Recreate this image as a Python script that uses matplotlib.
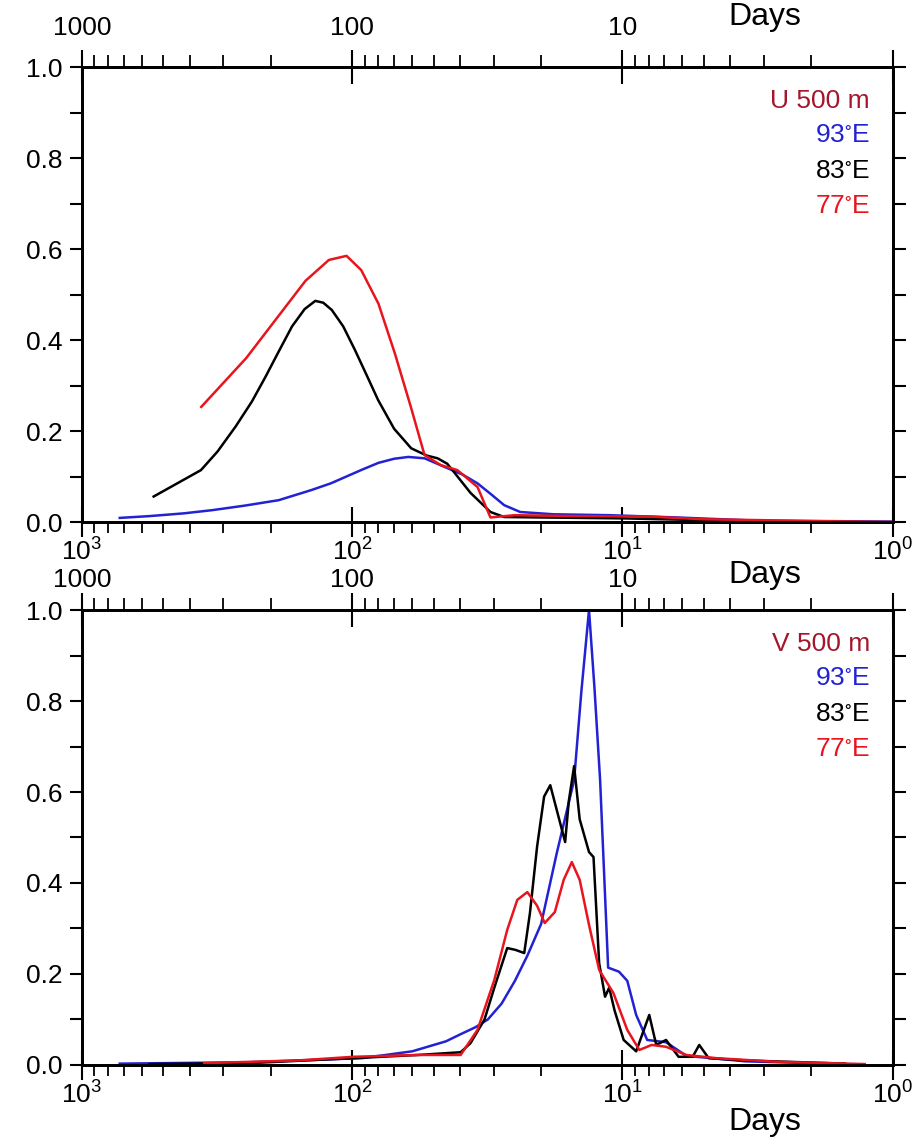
import numpy as np
import matplotlib
matplotlib.use('Agg')
import matplotlib.pyplot as plt
from matplotlib.ticker import FixedLocator, FixedFormatter, NullFormatter, MultipleLocator, LogLocator, LogFormatterSciNotation

plt.rcParams['font.family'] = ['Liberation Sans', 'DejaVu Sans']
plt.rcParams['mathtext.fontset'] = 'custom'
plt.rcParams['mathtext.rm'] = 'Liberation Sans'
plt.rcParams['mathtext.default'] = 'regular'

# ---- U 500 m (top panel): period in days vs normalised spectrum
u93_days = [725, 562, 420, 330, 250, 187, 142, 120, 106, 92, 80, 70, 62, 54, 45.5, 39, 34.4, 30.5, 27.4, 23.9, 18, 11.2, 6.3, 3.2, 1.0]
u93_vals = [0.009, 0.013, 0.019, 0.026, 0.036, 0.048, 0.07, 0.085, 0.099, 0.115, 0.13, 0.139, 0.143, 0.14, 0.121, 0.104, 0.085, 0.06, 0.037, 0.022, 0.017, 0.015, 0.01, 0.003, 0.001]

u83_days = [543, 363, 315, 270, 235, 209, 187, 167, 150, 137, 128, 119, 108, 97.7, 88, 80.2, 70, 60.5, 53, 48.3, 44.5, 41.8, 36.5, 30.8, 27.4, 20, 10, 5, 3]
u83_vals = [0.056, 0.114, 0.155, 0.21, 0.265, 0.32, 0.375, 0.43, 0.468, 0.486, 0.482, 0.466, 0.43, 0.378, 0.32, 0.268, 0.205, 0.162, 0.146, 0.14, 0.128, 0.108, 0.064, 0.022, 0.011, 0.01, 0.008, 0.004, 0.0]

u77_days = [362, 247, 149, 122, 105, 92.7, 80, 69.5, 60.7, 54, 47, 40.8, 34.4, 30.8, 25, 15, 8, 5, 3, 2, 1]
u77_vals = [0.253, 0.36, 0.53, 0.576, 0.585, 0.554, 0.48, 0.37, 0.253, 0.147, 0.125, 0.114, 0.077, 0.01, 0.015, 0.013, 0.012, 0.006, 0.004, 0.002, 0.0]

# ---- V 500 m (bottom panel)
v93_days = [725, 241, 92, 60, 45, 39.6, 35, 31.5, 28, 25, 22.5, 20, 17.5, 15.1, 14.2, 13.3, 12.7, 12.1, 11.3, 10.3, 9.6, 8.9, 8.1, 6.9, 5.8, 3.5, 1.5]
v93_vals = [0.003, 0.006, 0.015, 0.03, 0.052, 0.068, 0.083, 0.10, 0.135, 0.185, 0.24, 0.31, 0.466, 0.626, 0.82, 1.0, 0.83, 0.626, 0.214, 0.205, 0.185, 0.11, 0.055, 0.05, 0.02, 0.008, 0.002]

v83_days = [562, 241, 99, 57, 39.7, 36.5, 32.4, 29.8, 26.7, 24.9, 23.1, 22.0, 20.7, 19.5, 18.5, 17.5, 16.3, 15.8, 15.1, 14.4, 13.3,
            12.8, 12.2, 11.6, 11.2, 10.7, 9.9, 8.9, 7.96, 7.5, 6.9, 6.2, 5.5, 5.2, 4.8, 3.5, 1.5]
v83_vals = [0.002, 0.004, 0.015, 0.022, 0.028, 0.048, 0.10, 0.17, 0.257, 0.253, 0.246, 0.334, 0.48, 0.59, 0.615, 0.56, 0.49, 0.58, 0.657, 0.54, 0.468,
            0.457, 0.224, 0.15, 0.17, 0.12, 0.055, 0.03, 0.11, 0.044, 0.055, 0.018, 0.018, 0.044, 0.015, 0.01, 0.003]

v77_days = [353, 158, 99, 57, 39.7, 34.4, 29.8, 26.7, 24.5, 22.5, 20.7, 19.4, 17.8, 16.5, 15.4, 14.4, 13.3, 12.2, 10.8, 9.6,
            8.66, 7.8, 6.9, 5.8, 4.5, 2.7, 1.27]
v77_vals = [0.004, 0.01, 0.018, 0.022, 0.022, 0.077, 0.187, 0.297, 0.363, 0.38, 0.35, 0.312, 0.336, 0.407, 0.446, 0.407, 0.308, 0.209, 0.158, 0.077,
            0.033, 0.044, 0.04, 0.022, 0.015, 0.007, 0.002]

panels = [
    ('U 500 m', u93_days, u93_vals, u83_days, u83_vals, u77_days, u77_vals),
    ('V 500 m', v93_days, v93_vals, v83_days, v83_vals, v77_days, v77_vals),
]

BLUE = '#2222d4'
RED = '#e8141e'
DARKRED = '#a3162c'
FS = 19

fig = plt.figure(figsize=(9.13, 11.46), dpi=100)
rects = [[0.0898, 0.5445, 0.888, 0.397], [0.0898, 0.0707, 0.888, 0.397]]
top_pads = [7.5, 1.0]

for rect, pad, (name, d93, v93, d83, v83, d77, v77) in zip(rects, top_pads, panels):
    ax = fig.add_axes(rect)
    ax.plot(d93, v93, color=BLUE, lw=1.8, zorder=3, solid_joinstyle='round')
    ax.plot(d83, v83, color='black', lw=1.8, zorder=3, solid_joinstyle='round')
    ax.plot(d77, v77, color=RED, lw=1.8, zorder=4, solid_joinstyle='round')

    ax.set_xscale('log')
    ax.set_xlim(1000, 1)
    ax.set_ylim(0, 1)
    ax.xaxis.set_major_locator(FixedLocator([1000, 100, 10, 1]))
    ax.xaxis.set_major_formatter(LogFormatterSciNotation())
    ax.xaxis.set_minor_locator(LogLocator(base=10, subs=np.arange(2, 10)))
    ax.xaxis.set_minor_formatter(NullFormatter())
    ax.yaxis.set_major_locator(MultipleLocator(0.2))
    ax.yaxis.set_minor_locator(MultipleLocator(0.1))
    ax.yaxis.set_major_formatter(plt.FuncFormatter(lambda v, p: f'{v:.1f}'))
    ax.tick_params(axis='x', which='major', direction='inout', length=22, width=1.5,
                   labelsize=FS, pad=1)
    ax.tick_params(axis='x', which='minor', direction='out', length=8, width=1.3)
    ax.tick_params(axis='y', which='both', direction='out', length=9, width=1.5,
                   labelsize=FS, right=True, pad=5)
    for s in ax.spines.values():
        s.set_linewidth(2)

    top = ax.twiny()
    top.set_xscale('log')
    top.set_xlim(1000, 1)
    top.xaxis.set_major_locator(FixedLocator([1000, 100, 10, 1]))
    top.xaxis.set_major_formatter(FixedFormatter(['1000', '100', '10', '']))
    top.xaxis.set_minor_locator(LogLocator(base=10, subs=np.arange(2, 10)))
    top.xaxis.set_minor_formatter(NullFormatter())
    top.tick_params(axis='x', which='major', direction='inout', length=24, width=1.5,
                    labelsize=FS, pad=pad)
    top.tick_params(axis='x', which='minor', direction='out', length=9, width=1.3)
    for s in top.spines.values():
        s.set_linewidth(2)

    labels = [(name, DARKRED), ('93$^{\\circ}$E', BLUE), ('83$^{\\circ}$E', 'black'), ('77$^{\\circ}$E', RED)]
    for (txt, col), yy in zip(labels, [0.925, 0.851, 0.772, 0.695]):
        ax.text(0.972, yy, txt, color=col, fontsize=FS, ha='right', va='center',
                transform=ax.transAxes)

for yy in [0.985, 0.498, 0.021]:
    fig.text(0.838, yy, 'Days', fontsize=23, ha='center', va='center')

fig.savefig('out.png', dpi=100)
